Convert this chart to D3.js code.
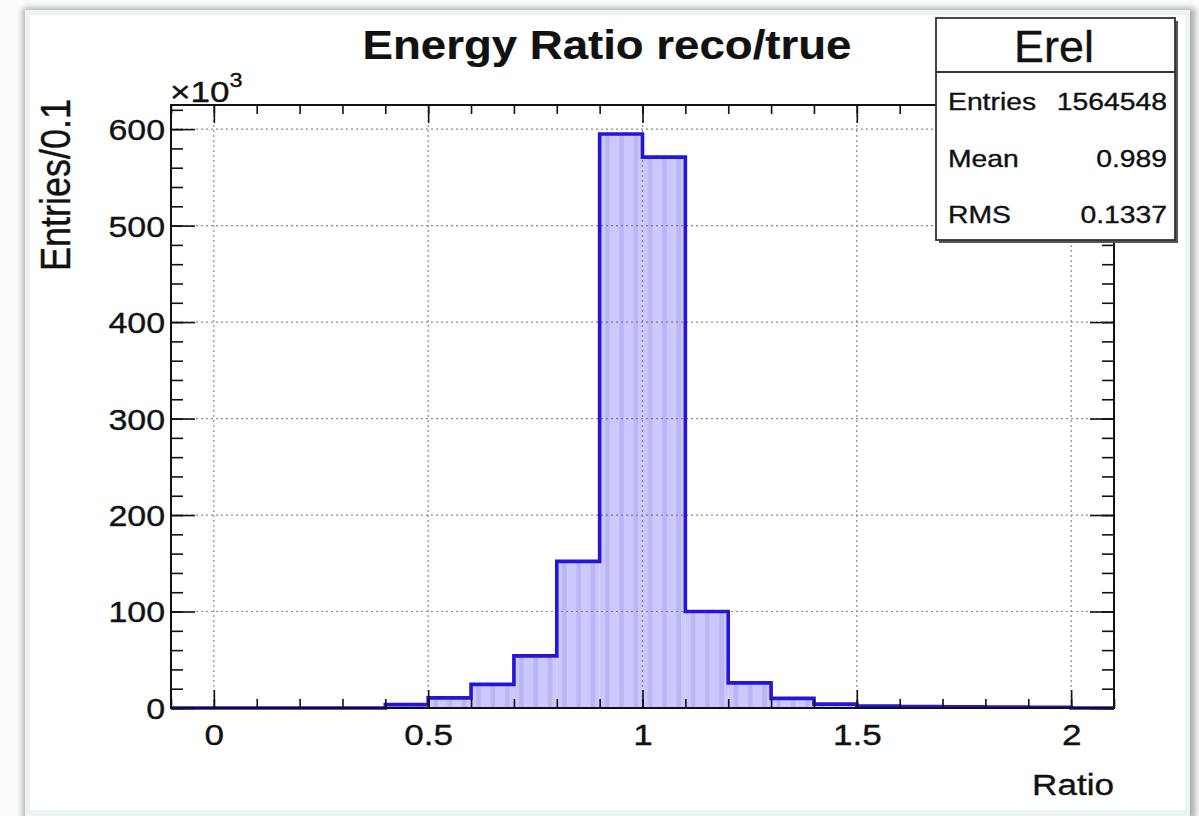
<!DOCTYPE html>
<html>
<head>
<meta charset="utf-8">
<script src="https://cdn.jsdelivr.net/npm/d3@7"></script>
<style>
  html, body { margin: 0; padding: 0; background: #fbfbfb; }
  svg { display: block; }
  text { font-family: "Liberation Sans", Arial, Helvetica, sans-serif; fill: #111;
         stroke: #111; stroke-width: 0.35px; }
</style>
</head>
<body>
<svg id="chart" width="1199" height="816"></svg>
<script>
// Histogram bin edges (ratio) and entries per bin
const binEdges = [-0.1, 0.0, 0.1, 0.2, 0.3, 0.4, 0.5, 0.6, 0.7, 0.8, 0.9, 1.0,
                  1.1, 1.2, 1.3, 1.4, 1.5, 1.6, 1.7, 1.8, 1.9, 2.0, 2.1];
const binEntries = [0, 0, 0, 0, 0, 3500, 10500, 24500, 54000, 152000, 595000, 571000,
                    100000, 26000, 10000, 4000, 2000, 1500, 1200, 1000, 800, 0];

// Axis ticks and labels
const xMajorTicks = [0, 0.5, 1, 1.5, 2];
const xTickLabels = ["0", "0.5", "1", "1.5", "2"];
const yMajorTicks = [0, 100000, 200000, 300000, 400000, 500000, 600000];
const yTickLabels = ["0", "100", "200", "300", "400", "500", "600"];

// Statistics box contents
const statsName = "Erel";
const statsLabels = ["Entries", "Mean", "RMS"];
const statsValues = ["1564548", "0.989", "0.1337"];

const titleText = "Energy Ratio reco/true";
const xTitle = "Ratio";
const yTitle = "Entries/0.1";

const svg = d3.select("#chart");
const frame = { left: 171, right: 1114, top: 105, bottom: 708 };
const SX = 1.17; // horizontal stretch of the Helvetica-style lettering

const defs = svg.append("defs");
defs.append("filter").attr("id", "soft").attr("x", "-5%").attr("y", "-5%")
  .attr("width", "110%").attr("height", "110%")
  .append("feGaussianBlur").attr("stdDeviation", 3);

const pat = defs.append("pattern").attr("id", "hatch")
  .attr("patternUnits", "userSpaceOnUse").attr("width", 14.3).attr("height", 20)
  .attr("x", 171);
pat.append("rect").attr("width", 14.3).attr("height", 20).attr("fill", "#cbc8fc");
pat.append("rect").attr("x", 5).attr("width", 4.5).attr("height", 20).attr("fill", "#bab6f4");

// Canvas window
svg.append("rect").attr("x", 23).attr("y", 8).attr("width", 1172).attr("height", 812)
  .attr("fill", "#a9a9a9").attr("filter", "url(#soft)");
svg.append("rect").attr("x", 25).attr("y", 10).attr("width", 1165).attr("height", 806)
  .attr("fill", "#eef2f1");
svg.append("rect").attr("x", 30).attr("y", 15).attr("width", 1155).attr("height", 795)
  .attr("fill", "#ffffff");

const x = d3.scaleLinear().domain([-0.1, 2.1]).range([frame.left, frame.right]);
const y = d3.scaleLinear().domain([0, 625000]).range([frame.bottom, frame.top]);

// Histogram fill
const bins = binEntries.map((v, i) => ({ x0: binEdges[i], x1: binEdges[i + 1], v }));
svg.append("g").selectAll("rect").data(bins.filter(d => d.v > 0)).join("rect")
  .attr("x", d => x(d.x0))
  .attr("y", d => y(d.v))
  .attr("width", d => x(d.x1) - x(d.x0))
  .attr("height", d => y(0) - y(d.v))
  .attr("fill", "url(#hatch)");

// Grid at major ticks
const grid = svg.append("g").attr("stroke", "#6e6e6e").attr("stroke-width", 1.2)
  .attr("stroke-dasharray", "2,3").attr("opacity", 0.8);
grid.selectAll("line.gx").data(xMajorTicks).join("line").attr("class", "gx")
  .attr("x1", d => x(d)).attr("x2", d => x(d))
  .attr("y1", frame.top).attr("y2", frame.bottom);
grid.selectAll("line.gy").data(yMajorTicks.filter(d => d > 0)).join("line").attr("class", "gy")
  .attr("x1", frame.left).attr("x2", frame.right)
  .attr("y1", d => y(d)).attr("y2", d => y(d));

// Histogram outline
const pts = [[binEdges[0], 0]];
bins.forEach(d => { pts.push([d.x0, d.v]); pts.push([d.x1, d.v]); });
pts.push([binEdges[binEdges.length - 1], 0]);
svg.append("path")
  .attr("d", d3.line().x(d => x(d[0])).y(d => y(d[1]))(pts))
  .attr("fill", "none").attr("stroke", "#2216dc").attr("stroke-width", 3.6)
  .attr("stroke-linejoin", "miter");

// Axes: ticks pointing inward on all four sides
const xMinor = d3.range(-0.1, 2.101, 0.1).map(v => +v.toFixed(2));
const yMinor = d3.range(0, 625001, 20000);

function styleAxis(g) {
  g.select(".domain").remove();
  g.selectAll(".tick line").attr("stroke", "#111").attr("stroke-width", 1.6);
}

svg.append("g").attr("transform", `translate(0,${frame.bottom})`)
  .call(d3.axisBottom(x).tickValues(xMinor).tickSize(-9).tickFormat(""))
  .call(styleAxis);
const xAx = svg.append("g").attr("transform", `translate(0,${frame.bottom})`)
  .call(d3.axisBottom(x).tickValues(xMajorTicks).tickSize(-18)
    .tickFormat((d, i) => xTickLabels[i]))
  .call(styleAxis);
xAx.selectAll(".tick text")
  .attr("y", 37).attr("dy", null)
  .attr("transform", `scale(${SX},1)`)
  .style("font-size", "30px").attr("fill", "#111");

svg.append("g").attr("transform", `translate(0,${frame.top})`)
  .call(d3.axisTop(x).tickValues(xMinor).tickSize(-9).tickFormat(""))
  .call(styleAxis);
svg.append("g").attr("transform", `translate(0,${frame.top})`)
  .call(d3.axisTop(x).tickValues(xMajorTicks).tickSize(-18).tickFormat(""))
  .call(styleAxis);

svg.append("g").attr("transform", `translate(${frame.left},0)`)
  .call(d3.axisLeft(y).tickValues(yMinor).tickSize(-12).tickFormat(""))
  .call(styleAxis);
const yAx = svg.append("g").attr("transform", `translate(${frame.left},0)`)
  .call(d3.axisLeft(y).tickValues(yMajorTicks).tickSize(-24)
    .tickFormat((d, i) => yTickLabels[i]))
  .call(styleAxis);
yAx.selectAll(".tick text")
  .attr("x", -6 / SX).attr("dy", "0.36em")
  .attr("transform", `scale(${SX},1)`)
  .style("font-size", "29px").attr("fill", "#111");

svg.append("g").attr("transform", `translate(${frame.right},0)`)
  .call(d3.axisRight(y).tickValues(yMinor).tickSize(-12).tickFormat(""))
  .call(styleAxis);
svg.append("g").attr("transform", `translate(${frame.right},0)`)
  .call(d3.axisRight(y).tickValues(yMajorTicks).tickSize(-24).tickFormat(""))
  .call(styleAxis);

// Frame
svg.append("rect")
  .attr("x", frame.left).attr("y", frame.top)
  .attr("width", frame.right - frame.left).attr("height", frame.bottom - frame.top)
  .attr("fill", "none").attr("stroke", "#111").attr("stroke-width", 2);

// Exponent label
const expo = svg.append("text").attr("transform", `translate(170,102) scale(${SX},1)`)
  .style("font-size", "30px");
expo.append("tspan").text("×10");
expo.append("tspan").attr("dy", -15).style("font-size", "20px").text("3");

// Axis titles
svg.append("text")
  .attr("transform", `translate(1114,795) scale(${SX},1)`)
  .attr("text-anchor", "end").style("font-size", "30px").text(xTitle);
svg.append("text")
  .attr("transform", `translate(70,99) scale(${SX},1) rotate(-90)`)
  .attr("text-anchor", "end").style("font-size", "36px").text(yTitle);

// Title
svg.append("text")
  .attr("transform", `translate(607,59) scale(1.14,1)`)
  .attr("text-anchor", "middle").style("font-size", "40px").style("font-weight", "bold")
  .style("stroke-width", "0.2px")
  .text(titleText);

// Statistics box
const sb = { x: 936, y: 18, w: 239, h: 222 };
svg.append("rect").attr("x", sb.x + 3).attr("y", sb.y + 3).attr("width", sb.w).attr("height", sb.h)
  .attr("fill", "#555");
svg.append("rect").attr("x", sb.x).attr("y", sb.y).attr("width", sb.w).attr("height", sb.h)
  .attr("fill", "#fff").attr("stroke", "#333").attr("stroke-width", 1.8);
svg.append("line").attr("x1", sb.x).attr("x2", sb.x + sb.w).attr("y1", 72).attr("y2", 72)
  .attr("stroke", "#333").attr("stroke-width", 1.8);
svg.append("text").attr("transform", `translate(1054,62) scale(1.02,1)`)
  .attr("text-anchor", "middle").style("font-size", "44px").text(statsName);
const rowY = [110, 167, 223];
statsLabels.forEach((lab, i) => {
  svg.append("text").attr("transform", `translate(948,${rowY[i]}) scale(1.18,1)`)
    .style("font-size", "24px").text(lab);
  svg.append("text").attr("transform", `translate(1167,${rowY[i]}) scale(1.18,1)`)
    .attr("text-anchor", "end").style("font-size", "24px").text(statsValues[i]);
});
</script>
</body>
</html>
